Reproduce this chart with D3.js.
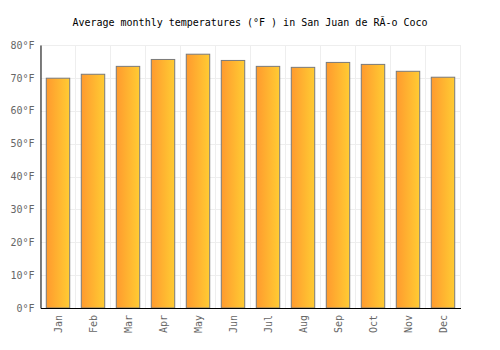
<!DOCTYPE html>
<html>
<head>
<meta charset="utf-8">
<script src="https://cdn.jsdelivr.net/npm/d3@7"></script>
<style>
  body { margin: 0; background: #fff; }
  text { font-family: "DejaVu Sans Mono", monospace; }
</style>
</head>
<body>
<div id="chart"></div>
<script>
const months = ["Jan", "Feb", "Mar", "Apr", "May", "Jun", "Jul", "Aug", "Sep", "Oct", "Nov", "Dec"];
const temps = [69.9, 71.1, 73.5, 75.6, 77.2, 75.3, 73.5, 73.2, 74.7, 74.1, 72.0, 70.2];
const yTicks = [0, 10, 20, 30, 40, 50, 60, 70, 80];
const title = "Average monthly temperatures (°F ) in San Juan de RÃ-o Coco";

const width = 500, height = 350, margin = { top: 45, right: 40, bottom: 42, left: 40 };
const w = width - margin.left - margin.right, h = height - margin.top - margin.bottom;

const svg = d3.select("#chart").append("svg")
    .attr("width", width)
    .attr("height", height);

const grad = svg.append("defs").append("linearGradient")
    .attr("id", "barGrad")
    .attr("x1", "0%").attr("x2", "100%").attr("y1", "0%").attr("y2", "0%");
grad.append("stop").attr("offset", "0%").attr("stop-color", "#ff9a2e");
grad.append("stop").attr("offset", "100%").attr("stop-color", "#ffcc33");

svg.append("text")
    .attr("x", width / 2)
    .attr("y", 26)
    .attr("text-anchor", "middle")
    .style("font-size", "10px")
    .style("fill", "#000")
    .text(title);

const chart = svg.append("g")
    .attr("transform", `translate(${margin.left + 0.5},${margin.top})`);

const x = d3.scaleBand().domain(months).range([0, w]).paddingInner(0.33).paddingOuter(0.165);
const xGrid = d3.scaleBand().domain(months).range([0, w]);
const y = d3.scaleLinear().domain([0, 80]).range([h, 0]);

// grid
chart.append("g").selectAll("line.h")
    .data(yTicks)
    .enter().append("line")
    .attr("x1", 0).attr("x2", w)
    .attr("y1", d => Math.round(y(d)) + 0.5).attr("y2", d => Math.round(y(d)) + 0.5)
    .attr("stroke", "#eeeeee");

chart.append("g").selectAll("line.v")
    .data(months.concat(["end"]))
    .enter().append("line")
    .attr("x1", d => d === "end" ? w : xGrid(d))
    .attr("x2", d => d === "end" ? w : xGrid(d))
    .attr("y1", 0).attr("y2", h)
    .attr("stroke", "#eeeeee");

chart.selectAll(".bar")
    .data(months)
    .enter().append("rect")
    .attr("class", "bar")
    .attr("x", d => x(d))
    .attr("y", (d, i) => y(temps[i]))
    .attr("width", x.bandwidth())
    .attr("height", (d, i) => h - y(temps[i]))
    .attr("fill", "url(#barGrad)")
    .attr("stroke", "#7a7a7a")
    .attr("stroke-width", 1);

// axes
const yAxis = chart.append("g")
    .call(d3.axisLeft(y).tickValues(yTicks).tickSize(0).tickPadding(6).tickFormat(d => d + "°F"));
yAxis.select(".domain").attr("stroke", "#000");
yAxis.selectAll("text").style("font-size", "10px").style("fill", "#666").style("font-family", "DejaVu Sans Mono");

const xAxis = chart.append("g")
    .attr("transform", `translate(0,${h})`)
    .call(d3.axisBottom(x).tickSize(0).tickPadding(6));
xAxis.select(".domain").attr("stroke", "#000");
xAxis.selectAll("text")
    .style("font-size", "10px").style("fill", "#666").style("font-family", "DejaVu Sans Mono")
    .attr("transform", "rotate(-90)")
    .attr("text-anchor", "end")
    .attr("x", -7)
    .attr("y", 0)
    .attr("dy", "0.35em");
</script>
</body>
</html>
